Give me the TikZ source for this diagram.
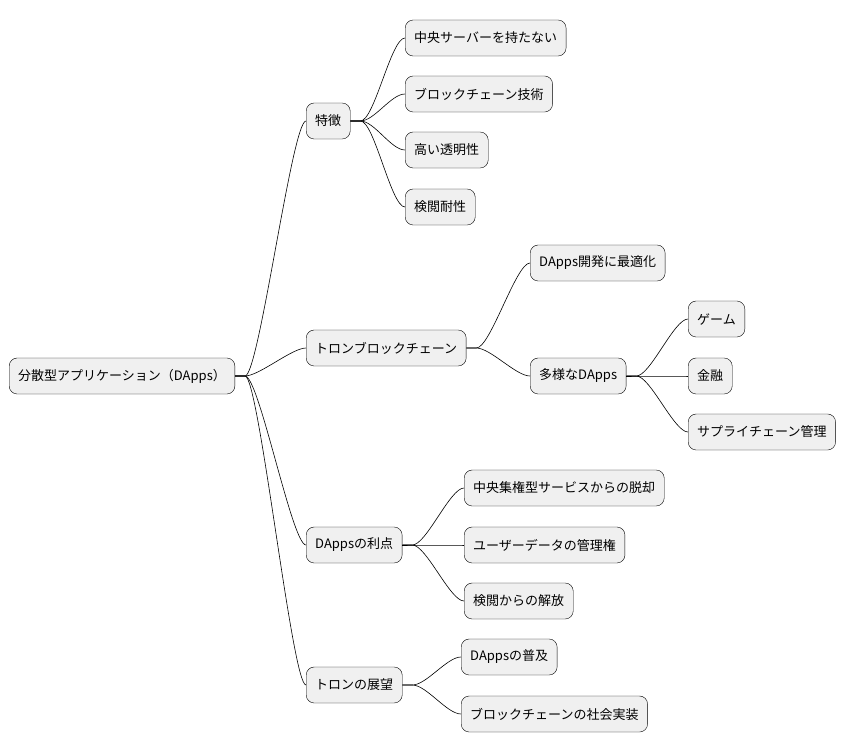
\documentclass[tikz,border=0pt]{standalone}
\usepackage{fontspec}
\setmainfont{Noto Sans CJK JP}
\begin{document}
\begin{tikzpicture}[x=1pt,y=-1pt,
    topic/.style={draw=black, fill=black!6, rounded corners=8pt, minimum height=36pt,
        inner xsep=9pt, anchor=west, font=\fontsize{13}{15}\selectfont},
    branch/.style={draw=black, line width=0.6pt}]
        \useasboundingbox (0,0) rectangle (859,752);

        % the root and the main topics
        \node[topic] (root) at (9,376) {分散型アプリケーション（DApps）};
        \node[topic] (feat) at (306,121) {特徴};
        \node[topic] (tron) at (306,348) {トロンブロックチェーン};
        \node[topic] (merit) at (306,545) {DAppsの利点};
        \node[topic] (outlook) at (306,685) {トロンの展望};

        % the sub topics
        \node[topic] (f1) at (405,38) {中央サーバーを持たない};
        \node[topic] (f2) at (405,94) {ブロックチェーン技術};
        \node[topic] (f3) at (405,150) {高い透明性};
        \node[topic] (f4) at (405,207) {検閲耐性};
        \node[topic] (t1) at (530,263) {DApps開発に最適化};
        \node[topic] (t2) at (530,376) {多様なDApps};
        \node[topic] (d1) at (688,319) {ゲーム};
        \node[topic] (d2) at (688,376) {金融};
        \node[topic] (d3) at (688,432) {サプライチェーン管理};
        \node[topic] (m1) at (464,488) {中央集権型サービスからの脱却};
        \node[topic] (m2) at (464,545) {ユーザーデータの管理権};
        \node[topic] (m3) at (464,601) {検閲からの解放};
        \node[topic] (o1) at (461,657) {DAppsの普及};
        \node[topic] (o2) at (461,714) {ブロックチェーンの社会実装};

        % draw the branches
        \foreach \p/\c in {root/feat, root/tron, root/merit, root/outlook,
                feat/f1, feat/f2, feat/f3, feat/f4, tron/t1, tron/t2,
                t2/d1, t2/d2, t2/d3, merit/m1, merit/m2, merit/m3,
                outlook/o1, outlook/o2}
            \draw[branch] (\p.east) -- ++(10,0) .. controls +(14,0) and +(-14,0) .. (\c.west);

    \end{tikzpicture}
\end{document}
